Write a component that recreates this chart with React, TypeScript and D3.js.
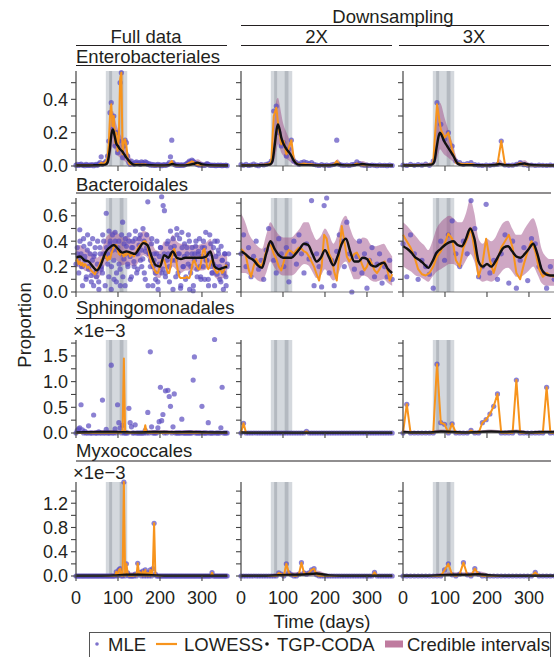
import React from "react";
import * as d3 from "d3";

// ---- categories ----
const TAXA = ["Enterobacteriales", "Bacteroidales", "Sphingomonadales", "Myxococcales"];
const COLUMNS = ["Full data", "2X", "3X"];

// travel period and the two illness episodes (days)
const TRAVEL = [71, 122];
const ILLNESS = [[79, 86], [104, 113]];

// ---- sample days ----
const FULL_DAYS = [
  0,3,6,9,12,15,18,21,24,27,
  30,33,36,39,42,45,48,51,54,57,
  60,63,66,69,72,75,78,81,84,87,
  90,93,96,99,102,105,108,111,114,117,
  120,123,126,129,132,135,138,141,144,147,
  150,153,156,159,162,165,168,171,174,177,
  180,183,186,189,192,195,198,201,204,207,
  210,213,216,219,222,225,228,231,234,237,
  240,243,246,249,252,255,258,261,264,267,
  270,273,276,279,282,285,288,291,294,297,
  300,303,306,309,312,315,318,321,324,327,
  330,333,336,339,342,345,348,351,354,357,
  360,
];
const DS2_DAYS = [
  0,6,12,18,24,30,36,42,48,54,
  60,66,72,78,84,90,96,102,108,114,
  120,126,132,138,144,150,156,162,168,174,
  180,186,192,198,204,210,216,222,228,234,
  240,246,252,258,264,270,276,282,288,294,
  300,306,312,318,324,330,336,342,348,354,
  360,
];
const DS3_DAYS = [
  0,9,18,27,36,45,54,63,72,81,
  90,99,108,117,126,135,144,153,162,171,
  180,189,198,207,216,225,234,243,252,261,
  270,279,288,297,306,315,324,333,342,351,
  360,
];
const ENTERO_SMOOTH_DAYS = [0,20,40,60,70,75,80,85,88,92,96,100,105,110,115,120,125,130,140,160,200,220,230,240,260,280,290,300,330,362];
const SMOOTH_DAYS = [
  0,10,20,30,40,50,60,70,80,90,
  100,110,120,130,140,150,160,170,180,190,
  200,210,220,230,240,250,260,270,280,290,
  300,310,320,330,340,350,360,
];
const SMALL_DAYS = [0,30,60,90,120,150,180,210,240,270,300,330,360];

// ---- tick values ----
const DAY_TICKS = [0, 100, 200, 300];
const ENTERO_TICKS = [0,0.1,0.2,0.3,0.4,0.5];
const ENTERO_LABELS = [0,0.2,0.4];
const BACT_TICKS = [0,0.1,0.2,0.3,0.4,0.5,0.6,0.7];
const BACT_LABELS = [0,0.2,0.4,0.6];
const SPHINGO_TICKS = [0,0.25,0.5,0.75,1,1.25,1.5,1.75];
const SPHINGO_LABELS = [0,0.5,1,1.5];
const MYXO_TICKS = [0,0.2,0.4,0.6,0.8,1,1.2,1.4];
const MYXO_LABELS = [0,0.4,0.8,1.2];
const Y_MAX = [0.57, 0.74, 1.81, 1.55];

// ---- Enterobacteriales ----
const ENTERO_FULL_MLE = [
  0.005,0.01,0.003,0.008,0.012,0.004,0.006,0.002,0.01,0.005,
  0.003,0.007,0.004,0.009,0.002,0.006,0.01,0.004,0.012,0.02,
  0.055,0.01,0.015,0.02,0.03,0.06,0.15,0.32,0.38,0.22,
  0.3,0.12,0.2,0.08,0.15,0.5,0.56,0.05,0.12,0.155,
  0.14,0.06,0.02,0.01,0.03,0.015,0.01,0.02,0.025,0.015,
  0.02,0.01,0.025,0.02,0.015,0.025,0.02,0.01,0.015,0.005,
  0.01,0.004,0.008,0.003,0.006,0.01,0.004,0.007,0.002,0.005,
  0.008,0.004,0.006,0.01,0.02,0.055,0.155,0.02,0.01,0.006,
  0.004,0.008,0.003,0.005,0.007,0.004,0.006,0.01,0.015,0.02,
  0.03,0.025,0.035,0.03,0.02,0.015,0.01,0.008,0.005,0.01,
  0.004,0.006,0.003,0.008,0.015,0.01,0.005,0.004,0.006,0.003,
  0.005,0.002,0.004,0.006,0.003,0.005,0.002,0.004,0.003,0.005,
  0.002,
];
const ENTERO_FULL_LOWESS = [
  0.004,0.004,0.004,0.004,0.005,0.005,0.005,0.005,0.005,0.005,
  0.005,0.005,0.005,0.005,0.005,0.005,0.006,0.006,0.008,0.012,
  0.02,0.015,0.015,0.02,0.03,0.05,0.13,0.3,0.37,0.24,
  0.3,0.14,0.2,0.09,0.17,0.52,0.56,0.07,0.14,0.16,
  0.12,0.05,0.015,0.01,0.012,0.01,0.008,0.01,0.012,0.01,
  0.01,0.008,0.01,0.01,0.008,0.01,0.008,0.006,0.006,0.004,
  0.004,0.003,0.003,0.003,0.003,0.003,0.003,0.003,0.003,0.003,
  0.003,0.003,0.004,0.006,0.01,0.02,0.03,0.012,0.006,0.004,
  0.003,0.003,0.003,0.003,0.003,0.003,0.004,0.006,0.01,0.015,
  0.02,0.022,0.028,0.025,0.018,0.012,0.008,0.006,0.005,0.005,
  0.004,0.004,0.004,0.005,0.006,0.005,0.004,0.003,0.003,0.003,
  0.003,0.003,0.003,0.003,0.003,0.003,0.003,0.003,0.003,0.003,
  0.003,
];
const ENTERO_FULL_TGP = [0.003,0.003,0.004,0.006,0.008,0.02,0.09,0.2,0.22,0.18,0.135,0.12,0.1,0.088,0.07,0.05,0.035,0.02,0.006,0.006,0.004,0.005,0.012,0.005,0.004,0.012,0.02,0.01,0.004,0.003];
const ENTERO_FULL_HI = [0.01,0.01,0.012,0.015,0.02,0.06,0.2,0.3,0.33,0.3,0.25,0.22,0.19,0.17,0.14,0.11,0.08,0.05,0.02,0.015,0.012,0.015,0.03,0.014,0.012,0.03,0.04,0.025,0.012,0.01];
const ENTERO_FULL_LO = [0,0,0,0.001,0.002,0.008,0.03,0.1,0.12,0.1,0.07,0.06,0.05,0.04,0.03,0.02,0.012,0.006,0.001,0.001,0.001,0.001,0.003,0.001,0.001,0.003,0.005,0.002,0,0];

const ENTERO_2X_MLE = [
  0.008,0.004,0.01,0.003,0.006,0.012,0.005,0.002,0.009,0.006,
  0.01,0.015,0.03,0.33,0.36,0.2,0.12,0.14,0.06,0.1,
  0.155,0.03,0.02,0.01,0.02,0.025,0.02,0.015,0.02,0.01,
  0.006,0.003,0.008,0.004,0.006,0.003,0.007,0.01,0.155,0.01,
  0.005,0.004,0.006,0.003,0.008,0.01,0.025,0.015,0.006,0.004,
  0.005,0.003,0.006,0.004,0.002,0.005,0.003,0.004,0.002,0.005,
  0.003,
];
const ENTERO_2X_LOWESS = [
  0.005,0.005,0.005,0.005,0.005,0.006,0.006,0.006,0.007,0.008,
  0.01,0.012,0.025,0.3,0.35,0.22,0.13,0.15,0.07,0.11,
  0.155,0.035,0.015,0.01,0.012,0.015,0.012,0.01,0.01,0.008,
  0.005,0.004,0.004,0.004,0.005,0.005,0.006,0.01,0.03,0.01,
  0.005,0.004,0.004,0.004,0.005,0.008,0.015,0.01,0.005,0.004,
  0.004,0.004,0.004,0.003,0.003,0.003,0.003,0.003,0.003,0.003,
  0.003,
];
const ENTERO_2X_TGP = [0.003,0.003,0.004,0.006,0.01,0.03,0.12,0.22,0.25,0.22,0.17,0.14,0.115,0.095,0.08,0.06,0.035,0.018,0.006,0.005,0.004,0.005,0.01,0.005,0.004,0.008,0.012,0.008,0.004,0.003];
const ENTERO_2X_HI = [0.012,0.012,0.014,0.018,0.03,0.09,0.3,0.4,0.41,0.37,0.31,0.26,0.22,0.19,0.16,0.12,0.08,0.045,0.02,0.015,0.012,0.015,0.04,0.015,0.012,0.025,0.03,0.02,0.012,0.012];
const ENTERO_2X_LO = [0,0,0,0.001,0.002,0.01,0.04,0.1,0.13,0.11,0.08,0.065,0.05,0.04,0.03,0.02,0.01,0.005,0.001,0.001,0.001,0.001,0.002,0.001,0.001,0.002,0.003,0.002,0,0];

const ENTERO_3X_MLE = [
  0.006,0.003,0.01,0.004,0.008,0.005,0.012,0.004,0.03,0.38,
  0.25,0.16,0.2,0.12,0.03,0.02,0.01,0.015,0.02,0.008,
  0.005,0.003,0.006,0.004,0.008,0.01,0.15,0.006,0.004,0.005,
  0.01,0.02,0.008,0.004,0.006,0.003,0.005,0.004,0.003,0.005,
  0.003,
];
const ENTERO_3X_LOWESS = [
  0.005,0.005,0.005,0.005,0.006,0.006,0.008,0.008,0.02,0.37,
  0.22,0.17,0.2,0.1,0.02,0.015,0.01,0.012,0.012,0.008,
  0.005,0.004,0.005,0.005,0.006,0.01,0.15,0.006,0.004,0.004,
  0.008,0.018,0.008,0.004,0.004,0.003,0.004,0.004,0.003,0.003,
  0.003,
];
const ENTERO_3X_TGP = [0.003,0.003,0.004,0.006,0.01,0.03,0.11,0.18,0.2,0.185,0.16,0.14,0.12,0.1,0.08,0.06,0.035,0.015,0.005,0.005,0.004,0.006,0.012,0.006,0.004,0.012,0.015,0.008,0.004,0.003];
const ENTERO_3X_HI = [0.012,0.012,0.014,0.018,0.03,0.09,0.28,0.36,0.38,0.36,0.32,0.28,0.24,0.2,0.16,0.12,0.07,0.035,0.015,0.015,0.012,0.015,0.04,0.015,0.012,0.03,0.035,0.02,0.012,0.012];
const ENTERO_3X_LO = [0,0,0,0.001,0.002,0.01,0.04,0.08,0.1,0.09,0.075,0.065,0.055,0.045,0.035,0.025,0.012,0.005,0.001,0.001,0.001,0.001,0.003,0.001,0.001,0.003,0.004,0.002,0,0];

// ---- Bacteroidales ----
const BACT_FULL_MLE = [
  0.22,0.35,0.26,0.49,0.3,0.2,0.42,0.28,0.1,0.33,
  0.18,0.38,0.13,0.25,0.05,0.3,0.16,0.22,0.08,0.35,
  0.2,0.15,0.4,0.28,0.62,0.3,0.12,0.38,0.02,0.45,
  0.25,0.47,0.08,0.33,0.4,0.18,0.3,0.55,0.26,0.05,
  0.36,0.22,0.4,0.28,0.12,0.35,0.24,0.42,0.3,0.18,
  0.37,0.45,0.33,0.26,0.4,0.1,0.35,0.71,0.3,0.2,
  0.38,0.05,0.25,0.15,0.3,0.08,0.22,0.35,0.75,0.18,
  0.3,0.12,0.25,0.4,0.2,0.48,0.3,0.02,0.36,0.25,
  0.5,0.15,0.3,0.03,0.47,0.2,0.28,0.1,0.35,0.22,
  0.4,0.15,0.3,0.01,0.25,0.36,0.18,0.3,0.42,0.12,
  0.28,0.2,0.35,0.47,0.25,0.1,0.3,0.38,0.15,0.22,
  0.05,0.28,0.14,0.33,0.2,0.08,0.25,0.02,0.3,0.12,
  0.2,
];
// second sample of the same days (the full series has more than one MLE per day)
const BACT_FULL_MLE_B = [
  0.3,0.15,0.4,0.2,0.05,0.36,0.25,0.12,0.45,0.2,
  0.3,0.08,0.42,0.28,0.35,0.12,0.4,0.02,0.3,0.18,
  0.45,0.3,0.05,0.35,0.22,0.48,0.4,0.2,0.33,0.1,
  0.4,0.15,0.35,0.22,0.05,0.45,0.12,0.38,0.42,0.3,
  0.2,0.45,0.1,0.35,0.4,0.2,0.48,0.15,0.3,0.42,
  0.25,0.2,0.5,0.15,0.32,0.45,0.05,0.3,0.25,0.42,
  0.2,0.3,0.1,0.4,0.02,0.28,0.35,0.15,0.68,0.64,
  0.15,0.38,0.3,0.08,0.35,0.25,0.42,0.3,0.12,0.45,
  0.3,0.42,0.05,0.35,0.2,0.38,0.12,0.3,0.45,0.02,
  0.2,0.35,0.05,0.3,0.4,0.12,0.32,0.2,0.1,0.35,
  0.4,0.1,0.25,0.3,0.05,0.45,0.2,0.15,0.35,0.4,
  0.2,0.4,0.3,0.1,0.36,0.25,0.15,0.3,0.05,0.22,
  0.3,
];
const BACT_FULL_LOWESS = [
  0.24,0.26,0.22,0.24,0.21,0.23,0.2,0.22,0.21,0.19,
  0.2,0.18,0.17,0.16,0.15,0.14,0.16,0.18,0.2,0.22,
  0.25,0.26,0.28,0.3,0.27,0.25,0.28,0.26,0.3,0.33,
  0.35,0.37,0.37,0.33,0.3,0.29,0.31,0.3,0.28,0.3,
  0.29,0.31,0.3,0.28,0.29,0.3,0.28,0.3,0.32,0.34,
  0.36,0.37,0.38,0.39,0.4,0.4,0.38,0.35,0.3,0.26,
  0.22,0.2,0.18,0.16,0.15,0.15,0.18,0.22,0.25,0.26,
  0.25,0.22,0.18,0.15,0.15,0.2,0.27,0.32,0.34,0.3,
  0.22,0.16,0.12,0.11,0.11,0.11,0.11,0.11,0.12,0.11,
  0.11,0.14,0.2,0.24,0.25,0.22,0.2,0.18,0.18,0.22,
  0.28,0.33,0.34,0.28,0.2,0.18,0.2,0.24,0.25,0.22,
  0.18,0.16,0.15,0.16,0.18,0.17,0.15,0.16,0.19,0.21,
  0.2,
];
const BACT_FULL_TGP = [
  0.27,0.28,0.25,0.24,0.2,0.17,0.22,0.31,0.35,0.37,
  0.34,0.31,0.32,0.31,0.3,0.34,0.385,0.37,0.28,0.21,
  0.2,0.29,0.27,0.32,0.27,0.26,0.27,0.27,0.27,0.27,
  0.27,0.28,0.32,0.2,0.18,0.19,0.2,
];
const BACT_FULL_HI = [
  0.36,0.37,0.34,0.33,0.3,0.27,0.32,0.42,0.46,0.48,
  0.46,0.43,0.44,0.42,0.4,0.44,0.48,0.47,0.4,0.33,
  0.32,0.4,0.38,0.45,0.4,0.38,0.38,0.37,0.37,0.37,
  0.38,0.39,0.42,0.31,0.28,0.3,0.3,
];
const BACT_FULL_LO = [
  0.19,0.2,0.17,0.16,0.12,0.1,0.14,0.22,0.25,0.27,
  0.24,0.21,0.22,0.21,0.2,0.24,0.29,0.27,0.18,0.12,
  0.11,0.19,0.17,0.2,0.17,0.15,0.17,0.17,0.17,0.17,
  0.17,0.18,0.22,0.12,0.1,0.11,0.12,
];

const BACT_2X_MLE = [
  0.3,0.45,0.2,0.35,0.12,0.28,0.4,0.18,0.25,0.1,
  0.33,0.5,0.38,0.25,0.15,0.42,0.3,0.2,0.35,0.08,
  0.3,0.4,0.22,0.45,0.3,0.15,0.38,0.26,0.72,0.05,
  0.3,0.2,0.04,0.68,0.74,0.15,0.25,0.05,0.32,0.45,
  0.4,0.2,0.55,0.3,0.0,0.18,0.28,0.4,0.15,0.3,
  0.03,0.25,0.35,0.12,0.22,0.3,0.07,0.2,0.12,0.25,
  0.1,
];
const BACT_2X_LOWESS = [
  0.34,0.32,0.28,0.18,0.12,0.2,0.26,0.22,0.2,0.25,
  0.32,0.38,0.36,0.3,0.26,0.2,0.17,0.24,0.3,0.33,
  0.32,0.3,0.33,0.35,0.34,0.32,0.31,0.28,0.24,0.2,
  0.14,0.09,0.2,0.45,0.42,0.3,0.26,0.16,0.09,0.3,
  0.52,0.4,0.28,0.24,0.27,0.3,0.31,0.27,0.22,0.17,
  0.2,0.26,0.22,0.17,0.15,0.18,0.22,0.24,0.18,0.09,
  0.14,
];
const BACT_2X_TGP = [
  0.32,0.3,0.27,0.25,0.21,0.19,0.3,0.4,0.34,0.29,
  0.27,0.27,0.27,0.3,0.34,0.38,0.37,0.3,0.24,0.27,
  0.33,0.27,0.21,0.28,0.38,0.42,0.32,0.24,0.24,0.27,
  0.26,0.21,0.2,0.22,0.23,0.18,0.15,
];
const BACT_2X_HI = [
  0.62,0.55,0.45,0.4,0.36,0.34,0.45,0.55,0.5,0.45,
  0.43,0.43,0.43,0.46,0.5,0.55,0.55,0.47,0.41,0.44,
  0.5,0.45,0.38,0.45,0.56,0.6,0.5,0.42,0.4,0.43,
  0.42,0.37,0.36,0.37,0.38,0.33,0.28,
];
const BACT_2X_LO = [
  0.15,0.15,0.13,0.12,0.09,0.08,0.15,0.24,0.19,0.15,
  0.13,0.13,0.13,0.15,0.19,0.22,0.21,0.16,0.11,0.13,
  0.18,0.13,0.09,0.13,0.21,0.24,0.17,0.1,0.1,0.13,
  0.12,0.09,0.08,0.09,0.1,0.07,0.05,
];

const BACT_3X_MLE = [
  0.38,0.12,0.45,0.3,0.1,0.25,0.2,0.14,0.03,0.3,
  0.4,0.25,0.45,0.56,0.3,0.2,0.4,0.3,0.72,0.5,
  0.12,0.2,0.69,0.15,0.25,0.1,0.3,0.45,0.07,0.4,
  0.03,0.25,0.35,0.09,0.42,0.38,0.2,0.15,0.03,0.2,
  0.1,
];
const BACT_3X_LOWESS = [
  0.45,0.4,0.35,0.28,0.18,0.14,0.13,0.15,0.2,0.28,
  0.32,0.38,0.46,0.42,0.25,0.2,0.35,0.42,0.5,0.32,
  0.12,0.22,0.42,0.25,0.15,0.25,0.35,0.4,0.45,0.35,
  0.15,0.1,0.22,0.32,0.4,0.32,0.18,0.12,0.15,0.13,
  0.12,
];
const BACT_3X_TGP = [
  0.36,0.34,0.31,0.27,0.25,0.22,0.19,0.24,0.31,0.34,
  0.37,0.39,0.4,0.37,0.36,0.42,0.5,0.42,0.24,0.2,
  0.22,0.2,0.24,0.3,0.35,0.36,0.32,0.28,0.27,0.3,
  0.34,0.38,0.3,0.18,0.14,0.13,0.13,
];
const BACT_3X_HI = [
  0.55,0.52,0.48,0.44,0.4,0.37,0.33,0.4,0.5,0.55,
  0.58,0.6,0.58,0.55,0.55,0.62,0.73,0.62,0.42,0.38,
  0.42,0.4,0.43,0.5,0.55,0.56,0.5,0.45,0.45,0.5,
  0.55,0.58,0.5,0.34,0.28,0.26,0.26,
];
const BACT_3X_LO = [
  0.2,0.18,0.16,0.13,0.12,0.1,0.08,0.12,0.16,0.18,
  0.2,0.22,0.22,0.2,0.2,0.25,0.3,0.24,0.11,0.08,
  0.09,0.08,0.1,0.14,0.18,0.19,0.16,0.12,0.12,0.14,
  0.17,0.2,0.14,0.07,0.05,0.05,0.05,
];

// ---- Sphingomonadales (x1e-3) ----
const SPHINGO_FULL_MLE = [
  0,0.05,0.08,0.1,0.55,0.06,0,0.03,0,0,
  0.14,0,0,0,0.35,0,0,0,0.02,0,
  0,0.64,0,0,0.07,0,0,0,1.32,0,
  0,0.08,0,0.55,0.2,0.1,0,0.15,0,0,
  0,0,0.48,0.2,0.12,0,0,0.16,0,0,
  0,0,0,0,0,0.05,0,0.4,0,1.58,
  0.12,0,0,0,0,0.1,0.22,0.89,0.24,0.36,
  0,0.82,0,0.83,0.71,0.52,0,0.12,0.76,0,
  0,0,0,0,0.27,0,0,0,0,0,
  0,0,0,1.03,1.48,0,0,0,0,0,
  0.52,0,0,0,0,0.2,0,0,0,0,
  1.82,0,0,0,0,0.1,0.89,0,0,0,
  0,
];
const SPHINGO_FULL_LOWESS = [
  0,0,0,0,0,0,0,0,0,0,
  0,0,0,0,0,0,0,0,0,0,
  0,0,0,0,0,0,0,0,0,0,
  0,0,0,0,0,0,0,0.05,1.45,0.02,
  0,0,0,0,0,0,0,0,0,0,
  0,0,0,0,0.02,0.15,0.02,0,0,0,
  0,0,0,0,0,0,0,0,0,0,
  0,0,0,0,0,0,0,0,0,0,
  0,0,0,0,0,0,0,0,0,0,
  0,0,0,0,0,0,0,0,0,0,
  0,0,0,0,0,0,0,0,0,0,
  0,0,0,0,0,0,0,0,0,0,
  0,
];
const SPHINGO_FULL_TGP = [0.01,0.015,0.02,0.02,0.015,0.01,0.02,0.02,0.015,0.02,0.015,0.01,0.01];
const SPHINGO_FULL_HI = [0.04,0.05,0.06,0.06,0.05,0.04,0.06,0.06,0.05,0.06,0.05,0.04,0.04];
const SPHINGO_FULL_LO = [0,0,0,0,0,0,0,0,0,0,0,0,0];

const SPHINGO_2X_MLE = [
  0,0.19,0,0,0,0,0,0,0,0,
  0,0,0,0,0,0,0,0,0,0,
  0,0,0,0,0,0,0.03,0,0,0,
  0,0,0,0,0,0,0,0,0,0,
  0,0,0,0,0,0,0,0,0,0,
  0,0,0,0,0,0,0,0,0,0,
  0,
];
const SPHINGO_2X_LOWESS = [
  0,0.19,0,0,0,0,0,0,0,0,
  0,0,0,0,0,0,0,0,0,0,
  0,0,0,0,0,0,0.03,0,0,0,
  0,0,0,0,0,0,0,0,0,0,
  0,0,0,0,0,0,0,0,0,0,
  0,0,0,0,0,0,0,0,0,0,
  0,
];
const SPHINGO_2X_TGP = [0.01,0.005,0.005,0.005,0.005,0.005,0.005,0.005,0.005,0.005,0.005,0.005,0.005];
const SPHINGO_2X_HI = [0.04,0.02,0.02,0.02,0.02,0.02,0.02,0.02,0.02,0.02,0.02,0.02,0.02];
const SPHINGO_2X_LO = [0,0,0,0,0,0,0,0,0,0,0,0,0];

const SPHINGO_3X_MLE = [
  0,0.56,0,0,0,0,0,0,0,1.34,
  0.2,0.17,0,0.18,0,0,0,0,0.05,0,
  0,0.2,0.26,0.37,0.52,0.76,0,0,0,0,
  1.03,0,0,0,0,0,0,0,0.89,0,
  0,
];
const SPHINGO_3X_LOWESS = [
  0,0.56,0,0,0,0,0,0,0,1.34,
  0.2,0.17,0,0.18,0,0,0,0,0.05,0,
  0,0.2,0.26,0.37,0.52,0.76,0,0,0,0,
  1.03,0,0,0,0,0,0,0,0.89,0,
  0,
];
const SPHINGO_3X_TGP = [0.02,0.01,0.01,0.03,0.02,0.01,0.02,0.03,0.02,0.03,0.01,0.02,0.02];
const SPHINGO_3X_HI = [0.06,0.04,0.04,0.07,0.05,0.04,0.05,0.07,0.05,0.07,0.04,0.05,0.05];
const SPHINGO_3X_LO = [0,0,0,0,0,0,0,0,0,0,0,0,0];

// ---- Myxococcales (x1e-3) ----
const MYXO_FULL_MLE = [
  0,0,0,0,0,0,0,0,0,0,
  0,0,0,0,0,0,0,0,0,0,
  0,0,0,0,0,0,0,0,0,0,
  0,0,0.07,0,0.1,0.12,0,0,1.55,0,
  0.2,0.05,0,0,0,0,0,0.03,0,0.21,
  0.05,0.06,0,0.08,0,0.1,0,0.05,0,0.1,
  0,0.12,0.87,0.03,0,0,0,0,0,0,
  0,0,0,0,0,0,0,0,0,0,
  0,0,0,0,0,0,0,0,0,0,
  0,0,0,0,0,0,0,0,0,0,
  0,0,0,0,0,0,0,0,0.055,0,
  0,0,0,0,0,0,0,0,0,0,
  0,
];
const MYXO_FULL_LOWESS = [
  0,0,0,0,0,0,0,0,0,0,
  0,0,0,0,0,0,0,0,0,0,
  0,0,0,0,0,0,0,0,0,0,
  0,0,0.07,0,0.1,0.12,0,0,1.55,0,
  0.2,0.05,0,0,0,0,0,0.03,0,0.21,
  0.05,0.06,0,0.08,0,0.1,0,0.05,0,0.1,
  0,0.12,0.87,0.03,0,0,0,0,0,0,
  0,0,0,0,0,0,0,0,0,0,
  0,0,0,0,0,0,0,0,0,0,
  0,0,0,0,0,0,0,0,0,0,
  0,0,0,0,0,0,0,0,0.055,0,
  0,0,0,0,0,0,0,0,0,0,
  0,
];
const MYXO_FULL_TGP = [0.005,0.005,0.005,0.01,0.02,0.02,0.015,0.005,0.005,0.005,0.005,0.005,0.005];
const MYXO_FULL_HI = [0.02,0.02,0.02,0.04,0.06,0.06,0.05,0.02,0.02,0.02,0.02,0.02,0.02];
const MYXO_FULL_LO = [0,0,0,0,0,0,0,0,0,0,0,0,0];

const MYXO_2X_MLE = [
  0,0,0,0,0,0,0,0,0,0,
  0,0,0,0,0,0.05,0.03,0,0.2,0.05,
  0.02,0,0,0.03,0.22,0.05,0.03,0.05,0.1,0.12,
  0.02,0,0,0,0,0,0,0,0,0,
  0,0,0,0,0,0,0,0,0,0,
  0,0,0,0.06,0,0,0,0,0,0,
  0,
];
const MYXO_2X_LOWESS = [
  0,0,0,0,0,0,0,0,0,0,
  0,0,0,0,0,0.05,0.03,0,0.2,0.05,
  0.02,0,0,0.03,0.22,0.05,0.03,0.05,0.1,0.12,
  0.02,0,0,0,0,0,0,0,0,0,
  0,0,0,0,0,0,0,0,0,0,
  0,0,0,0.06,0,0,0,0,0,0,
  0,
];
const MYXO_2X_TGP = [0.005,0.005,0.005,0.015,0.02,0.025,0.04,0.01,0.005,0.005,0.005,0.005,0.005];
const MYXO_2X_HI = [0.02,0.02,0.02,0.05,0.06,0.07,0.09,0.03,0.02,0.02,0.02,0.02,0.02];
const MYXO_2X_LO = [0,0,0,0,0,0,0,0,0,0,0,0,0];

const MYXO_3X_MLE = [
  0,0,0,0,0,0,0,0,0,0,
  0,0.1,0.2,0.02,0,0.03,0.22,0.02,0,0.12,
  0.03,0,0,0,0,0,0,0,0,0,
  0,0,0,0,0,0.06,0,0,0,0,
  0,
];
const MYXO_3X_LOWESS = [
  0,0,0,0,0,0,0,0,0,0,
  0,0.1,0.2,0.02,0,0.03,0.22,0.02,0,0.12,
  0.03,0,0,0,0,0,0,0,0,0,
  0,0,0,0,0,0.06,0,0,0,0,
  0,
];
const MYXO_3X_TGP = [0.005,0.005,0.005,0.015,0.02,0.02,0.03,0.01,0.005,0.005,0.005,0.005,0.005];
const MYXO_3X_HI = [0.02,0.02,0.02,0.05,0.06,0.06,0.08,0.03,0.02,0.02,0.02,0.02,0.02];
const MYXO_3X_LO = [0,0,0,0,0,0,0,0,0,0,0,0,0];

// ---- layout ----
const W = 554;
const H = 657;
const FONT = "'Liberation Sans', Arial, Helvetica, sans-serif";
const INK = "#231f20";
const COL_X0 = [76, 241, 403];
const PANEL_W = 152;
const DAY_MAX = 362;
const COL_DAYS = [FULL_DAYS, DS2_DAYS, DS3_DAYS];

const ROWS = [
  {
    top: 71, bottom: 166, titleY: 63, lineY: 65.5, sci: false,
    ticks: ENTERO_TICKS, labels: ENTERO_LABELS, smoothDays: ENTERO_SMOOTH_DAYS,
    series: [
      [ENTERO_FULL_MLE, ENTERO_FULL_LOWESS, ENTERO_FULL_TGP, ENTERO_FULL_LO, ENTERO_FULL_HI],
      [ENTERO_2X_MLE, ENTERO_2X_LOWESS, ENTERO_2X_TGP, ENTERO_2X_LO, ENTERO_2X_HI],
      [ENTERO_3X_MLE, ENTERO_3X_LOWESS, ENTERO_3X_TGP, ENTERO_3X_LO, ENTERO_3X_HI],
    ],
    extra: [null, null, null],
  },
  {
    top: 198, bottom: 292, titleY: 190.5, lineY: 193, sci: false,
    ticks: BACT_TICKS, labels: BACT_LABELS, smoothDays: SMOOTH_DAYS,
    series: [
      [BACT_FULL_MLE, BACT_FULL_LOWESS, BACT_FULL_TGP, BACT_FULL_LO, BACT_FULL_HI],
      [BACT_2X_MLE, BACT_2X_LOWESS, BACT_2X_TGP, BACT_2X_LO, BACT_2X_HI],
      [BACT_3X_MLE, BACT_3X_LOWESS, BACT_3X_TGP, BACT_3X_LO, BACT_3X_HI],
    ],
    extra: [BACT_FULL_MLE_B, null, null],
  },
  {
    top: 340, bottom: 433, titleY: 313.5, lineY: 318.5, sci: true,
    ticks: SPHINGO_TICKS, labels: SPHINGO_LABELS, smoothDays: SMALL_DAYS,
    series: [
      [SPHINGO_FULL_MLE, SPHINGO_FULL_LOWESS, SPHINGO_FULL_TGP, SPHINGO_FULL_LO, SPHINGO_FULL_HI],
      [SPHINGO_2X_MLE, SPHINGO_2X_LOWESS, SPHINGO_2X_TGP, SPHINGO_2X_LO, SPHINGO_2X_HI],
      [SPHINGO_3X_MLE, SPHINGO_3X_LOWESS, SPHINGO_3X_TGP, SPHINGO_3X_LO, SPHINGO_3X_HI],
    ],
    extra: [null, null, null],
  },
  {
    top: 482, bottom: 576, titleY: 456.5, lineY: 461, sci: true,
    ticks: MYXO_TICKS, labels: MYXO_LABELS, smoothDays: SMALL_DAYS,
    series: [
      [MYXO_FULL_MLE, MYXO_FULL_LOWESS, MYXO_FULL_TGP, MYXO_FULL_LO, MYXO_FULL_HI],
      [MYXO_2X_MLE, MYXO_2X_LOWESS, MYXO_2X_TGP, MYXO_2X_LO, MYXO_2X_HI],
      [MYXO_3X_MLE, MYXO_3X_LOWESS, MYXO_3X_TGP, MYXO_3X_LO, MYXO_3X_HI],
    ],
    extra: [null, null, null],
  },
];

const fmt = d3.format(".1f");

function Panel({ r, c }: { r: number; c: number }) {
  const row = ROWS[r];
  const x0 = COL_X0[c];
  const x = d3.scaleLinear().domain([0, DAY_MAX]).range([x0, x0 + PANEL_W]);
  const y = d3.scaleLinear().domain([0, Y_MAX[r]]).range([row.bottom, row.top]);
  const days = COL_DAYS[c];
  const sd = row.smoothDays;
  const [mle, lowess, tgp, lo, hi] = row.series[c];
  const extra = row.extra[c];

  const ci = d3
    .area<number>()
    .x((_, i) => x(sd[i]))
    .y0((_, i) => y(lo[i]))
    .y1((v) => y(v))
    .curve(d3.curveMonotoneX);
  const smooth = d3
    .line<number>()
    .x((_, i) => x(sd[i]))
    .y((v) => y(v))
    .curve(d3.curveMonotoneX);
  const raw = d3
    .line<number>()
    .x((_, i) => x(days[i]))
    .y((v) => y(v));

  const isBottom = r === ROWS.length - 1;
  return (
    <g>
      {/* travel / illness shading */}
      <rect x={x(TRAVEL[0])} y={row.top} width={x(TRAVEL[1]) - x(TRAVEL[0])} height={row.bottom - row.top} fill="#d4d8dd" />
      {ILLNESS.map(([a, b], i) => (
        <rect key={i} x={x(a)} y={row.top} width={x(b) - x(a)} height={row.bottom - row.top} fill="#b4b9c0" />
      ))}
      <path d={ci(hi) ?? ""} fill="#a0508a" fillOpacity={0.5} />
      {extra &&
        extra.map((v, i) => (
          <circle key={"b" + i} cx={x(days[i]) + 1.5} cy={y(v)} r={2.6} fill="#5a4cbf" fillOpacity={0.7} />
        ))}
      {mle.map((v, i) => (
        <circle key={i} cx={x(days[i])} cy={y(v)} r={2.6} fill="#5a4cbf" fillOpacity={0.7} />
      ))}
      <path d={raw(lowess) ?? ""} fill="none" stroke="#f7941d" strokeWidth={2} strokeLinejoin="round" />
      <path d={smooth(tgp) ?? ""} fill="none" stroke="#111" strokeWidth={2.4} strokeLinejoin="round" />

      {/* axes */}
      <line x1={x0} x2={x0} y1={row.top} y2={row.bottom} stroke="#444" strokeWidth={1.2} />
      <line x1={x0} x2={x0 + PANEL_W} y1={row.bottom} y2={row.bottom} stroke="#555" strokeWidth={0.8} />
      {row.ticks.map((t) => (
        <line key={t} x1={x0 - 5} x2={x0} y1={y(t)} y2={y(t)} stroke="#444" strokeWidth={1.1} />
      ))}
      {DAY_TICKS.map((t) => (
        <line key={t} x1={x(t)} x2={x(t)} y1={row.bottom} y2={row.bottom + 5} stroke="#444" strokeWidth={1.1} />
      ))}
      {c === 0 &&
        row.labels.map((t) => (
          <text key={t} x={x0 - 8} y={y(t)} dy="0.36em" textAnchor="end" fontSize={18} fill={INK}>
            {fmt(t)}
          </text>
        ))}
      {isBottom &&
        DAY_TICKS.map((t) => (
          <text key={t} x={x(t)} y={603.5} textAnchor="middle" fontSize={18} fill={INK}>
            {t}
          </text>
        ))}
    </g>
  );
}

export default function App() {
  return (
    <svg
      width={W}
      height={H}
      viewBox={`0 0 ${W} ${H}`}
      style={{ position: "absolute", left: 0, top: 0, background: "#fff" }}
      fontFamily={FONT}
    >
      {/* column headers */}
      <text x={393} y={22.5} textAnchor="middle" fontSize={18.5} fill={INK}>Downsampling</text>
      <line x1={241} x2={549} y1={25.5} y2={25.5} stroke={INK} strokeWidth={1.1} />
      <text x={146} y={42.5} textAnchor="middle" fontSize={18.5} fill={INK}>{COLUMNS[0]}</text>
      <line x1={76} x2={227} y1={45.5} y2={45.5} stroke={INK} strokeWidth={1.1} />
      <text x={316.5} y={42.5} textAnchor="middle" fontSize={18.5} fill={INK}>{COLUMNS[1]}</text>
      <line x1={241} x2={392} y1={45.5} y2={45.5} stroke={INK} strokeWidth={1.1} />
      <text x={474} y={42.5} textAnchor="middle" fontSize={18.5} fill={INK}>{COLUMNS[2]}</text>
      <line x1={399} x2={549} y1={45.5} y2={45.5} stroke={INK} strokeWidth={1.1} />

      {ROWS.map((row, r) => (
        <g key={r}>
          <text x={76} y={row.titleY} fontSize={18.5} fill={INK}>{TAXA[r]}</text>
          <line x1={76} x2={551} y1={row.lineY} y2={row.lineY} stroke={INK} strokeWidth={1.2} />
          {row.sci && (
            <text x={73} y={row.top - 3.5} fontSize={18.5} fill={INK}>×1e−3</text>
          )}
          {COLUMNS.map((_, c) => (
            <Panel key={c} r={r} c={c} />
          ))}
        </g>
      ))}

      {/* axis titles */}
      <text transform="translate(31,325) rotate(-90)" textAnchor="middle" fontSize={18.5} fill={INK}>Proportion</text>
      <text x={322} y={627.5} textAnchor="middle" fontSize={18.5} fill={INK}>Time (days)</text>

      {/* legend */}
      <rect x={89.5} y={632.5} width={461} height={32} fill="#fff" stroke="#555" strokeWidth={1} />
      <circle cx={97} cy={644} r={1.8} fill="#7d72cc" />
      <text x={108} y={650.5} fontSize={18.5} fill={INK}>MLE</text>
      <line x1={156} x2={177} y1={644} y2={644} stroke="#f7941d" strokeWidth={2.2} />
      <text x={184} y={650.5} fontSize={18.5} fill={INK}>LOWESS</text>
      <circle cx={267} cy={644} r={1.8} fill="#111" />
      <text x={277} y={650.5} fontSize={18.5} fill={INK}>TGP-CODA</text>
      <rect x={385} y={640.5} width={18} height={7} fill="#bf7b9f" />
      <text x={407} y={650.5} fontSize={18.5} fill={INK}>Credible intervals</text>
    </svg>
  );
}
